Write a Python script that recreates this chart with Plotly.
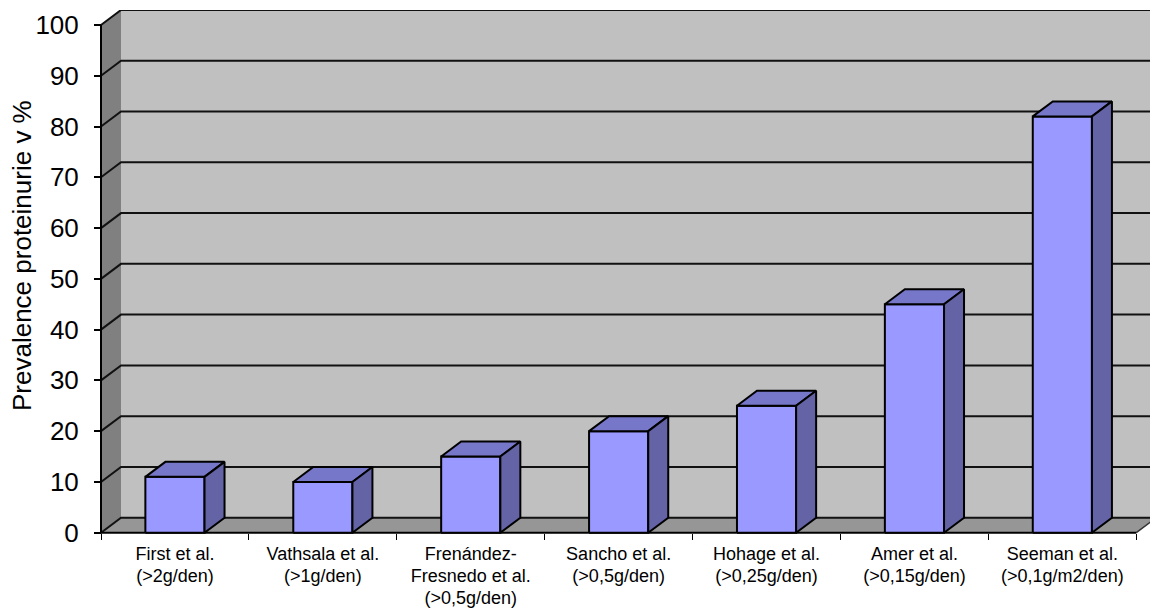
import plotly.graph_objects as go

# ---- data ----
studies = [
    "First et al.<br>(>2g/den)",
    "Vathsala et al.<br>(>1g/den)",
    "Frenández-<br>Fresnedo et al.<br>(>0,5g/den)",
    "Sancho et al.<br>(>0,5g/den)",
    "Hohage et al.<br>(>0,25g/den)",
    "Amer et al.<br>(>0,15g/den)",
    "Seeman et al.<br>(>0,1g/m2/den)",
]
prevalence = [11, 10, 15, 20, 25, 45, 82]
y_ticks = [0, 10, 20, 30, 40, 50, 60, 70, 80, 90, 100]
y_title = "Prevalence proteinurie v %"

# ---- page geometry (pixels) ----
W, H = 1150, 608
M_L, M_R, M_T, M_B = 96, 0, 10, 72
FRONT_X0 = 101          # pixel x of the front y-axis
FRONT_Y0 = 532.7        # pixel y of the front floor edge
PX_CAT = 147.9          # pixels per category
PX_VAL = 5.077          # pixels per percent
DEPTH_PX = (20, 15)     # oblique depth offset of the 3-D box
TITLE_XY = (22, 256)    # pixel centre of the rotated axis title

n = len(studies)
x_lo = -(FRONT_X0 - M_L) / PX_CAT
x_hi = (W - M_R - FRONT_X0) / PX_CAT
y_lo = -((H - M_B) - FRONT_Y0) / PX_VAL
y_hi = (FRONT_Y0 - M_T) / PX_VAL
DX = DEPTH_PX[0] / PX_CAT
DY = DEPTH_PX[1] / PX_VAL
y_max = max(y_ticks)

BACK = "#C0C0C0"
SIDE_WALL = "#808080"
FLOOR = "#969696"
FRONT_FACE = "#9999FF"
TOP_FACE = "#7777CA"
SIDE_FACE = "#6363A6"

shapes = []


def poly(pts, fill, line_color="rgba(0,0,0,0)", width=0):
    path = "M " + " L ".join(f"{x},{y}" for x, y in pts) + " Z"
    shapes.append(dict(type="path", path=path, xref="x", yref="y",
                       fillcolor=fill, line=dict(color=line_color, width=width),
                       layer="below"))


def seg(pts, color="#000000", width=2):
    path = "M " + " L ".join(f"{x},{y}" for x, y in pts)
    shapes.append(dict(type="path", path=path, xref="x", yref="y",
                       line=dict(color=color, width=width), layer="below"))


# walls and floor
poly([(DX, DY), (n + DX, DY), (n + DX, y_max + DY), (DX, y_max + DY)], BACK)
poly([(0, 0), (n, 0), (n + DX, DY), (DX, DY)], FLOOR)
poly([(0, 0), (DX, DY), (DX, y_max + DY), (0, y_max)], SIDE_WALL)

# gridlines on the side wall and back wall
for v in y_ticks:
    seg([(0, v), (DX, v + DY), (n + DX + 1, v + DY)], "#111111", 2)

# front edges of the box
seg([(n, 0), (n + DX, DY)], "#333333", 1.5)
seg([(0, 0), (n, 0)], "#000000", 2)
seg([(0, 0), (0, y_max)], "#000000", 2)

fig = go.Figure()

hw = 0.2  # half bar width in category units


def face(pts, color):
    xs = [p[0] for p in pts] + [pts[0][0]]
    ys = [p[1] for p in pts] + [pts[0][1]]
    fig.add_trace(go.Scatter(x=xs, y=ys, mode="lines", fill="toself",
                             fillcolor=color,
                             line=dict(color="#000000", width=2),
                             hoverinfo="skip", showlegend=False))


for i, v in enumerate(prevalence):
    c = i + 0.5
    a, b = c - hw, c + hw
    face([(a, 0), (b, 0), (b, v), (a, v)], FRONT_FACE)
    face([(a, v), (b, v), (b + DX, v + DY), (a + DX, v + DY)], TOP_FACE)
    face([(b, 0), (b + DX, DY), (b + DX, v + DY), (b, v)], SIDE_FACE)

# category labels: 18px glyphs on a tighter line pitch than the default
label_px = 18
tick_text = ["<br>".join(f"<span style='font-size:{label_px}px'>{ln}</span>"
                         for ln in s.split("<br>")) for s in studies]

plot_w = W - M_L - M_R
plot_h = H - M_T - M_B

fig.update_layout(
    width=W, height=H,
    margin=dict(l=M_L, r=M_R, t=M_T, b=M_B, pad=0, autoexpand=False),
    paper_bgcolor="white", plot_bgcolor="white",
    shapes=shapes,
    font=dict(family="Liberation Sans, Arial, sans-serif", color="black"),
    xaxis=dict(
        range=[x_lo, x_hi], showgrid=False, zeroline=False, showline=False,
        tickmode="array", tickvals=[i + 0.5 for i in range(n)], ticktext=tick_text,
        ticks="", tickfont=dict(size=16.7), ticklabelstandoff=10,
        anchor="free", position=(0 - y_lo) / (y_hi - y_lo),
        minor=dict(tickmode="array", tickvals=list(range(n + 1)), ticks="outside",
                   ticklen=6, tickwidth=1, tickcolor="#000000", showgrid=False),
        automargin=False, fixedrange=True,
    ),
    yaxis=dict(
        range=[y_lo, y_hi], showgrid=False, zeroline=False, showline=False,
        tickmode="array", tickvals=y_ticks,
        ticks="outside", ticklen=7, tickwidth=1.5, tickcolor="#000000",
        tickfont=dict(size=26), ticklabelstandoff=10,
        anchor="free", position=(0 - x_lo) / (x_hi - x_lo),
        automargin=False, fixedrange=True,
    ),
    annotations=[dict(
        text=y_title, textangle=-90, showarrow=False,
        xref="paper", yref="paper",
        x=(TITLE_XY[0] - M_L) / plot_w, y=(H - M_B - TITLE_XY[1]) / plot_h,
        xanchor="center", yanchor="middle",
        font=dict(size=26),
    )],
)

fig.write_html("out.html")
